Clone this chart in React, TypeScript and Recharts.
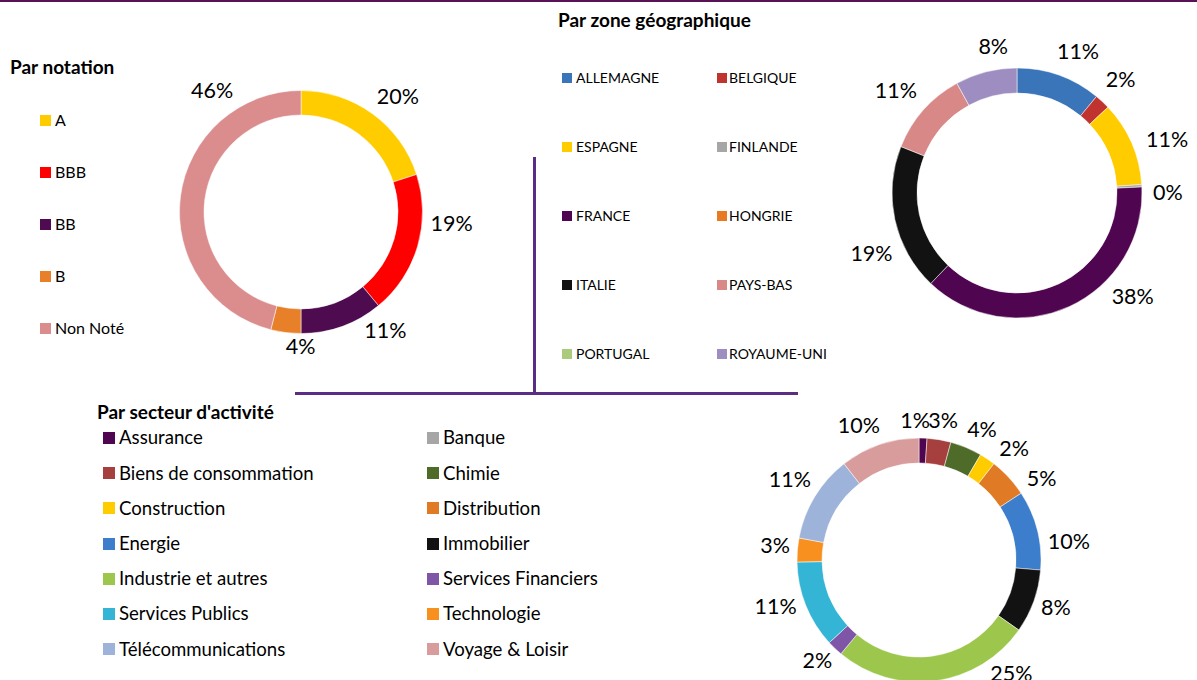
import { PieChart, Pie, Cell } from 'recharts'

// Par notation
const ratingNames = ['A', 'BBB', 'BB', 'B', 'Non Noté']
const ratingValues = [20, 19, 11, 4, 46]
const ratingColors = ['#FFCC00', '#FF0000', '#4F0B4F', '#E8802A', '#DB8C8C']

// Par zone géographique
const zoneNames = ['ALLEMAGNE', 'BELGIQUE', 'ESPAGNE', 'FINLANDE', 'FRANCE', 'HONGRIE', 'ITALIE', 'PAYS-BAS', 'PORTUGAL', 'ROYAUME-UNI']
const zoneValues = [11, 2, 11, 0.3, 38, 0, 19, 11, 0, 8]
const zoneColors = ['#3A74B9', '#C0332F', '#FFCC00', '#A6A6A6', '#500550', '#E87A22', '#121212', '#D98888', '#A9CB7B', '#9E8DC0']

// Par secteur d'activité
const sectorNames = [
  'Assurance', 'Banque', 'Biens de consommation', 'Chimie', 'Construction', 'Distribution', 'Energie',
  'Immobilier', 'Industrie et autres', 'Services Financiers', 'Services Publics', 'Technologie',
  'Télécommunications', 'Voyage & Loisir',
]
const sectorValues = [1, 0, 3, 4, 2, 5, 10, 8, 25, 2, 11, 3, 11, 10]
const sectorColors = [
  '#500550', '#A6A6A6', '#A6403E', '#4F6B2A', '#FFCC00', '#E07A25', '#3C7ECB',
  '#121212', '#9CC74C', '#7F55A8', '#35B5D6', '#F7901E', '#9EB3D9', '#D99C9C',
]

// label nudges (clockwise degrees) to mimic Excel's "best fit" placement
const ratingLabelShift = [4.5, -11, -15, -7, 46]
const zoneLabelShift = [4, 0, 5, 4, -23, 0, -11, -2, 0, 5]
const sectorLabelShift = [-3.5, 0, 0.5, 3.5, 7, 10, 8, 0, -31, 1, 3, 0, 0, -5.6]

const FONT = 'Lato, "Open Sans", sans-serif'
const LINE = '#5B2C83'
const LABEL_SIZE = 21.5

const toRows = (names: string[], values: number[]) => names.map((name, i) => ({ name, value: values[i] }))

const makeLabel = (shifts: number[], gap: number) => (props: any) => {
  const { cx, cy, midAngle, outerRadius, value, index } = props
  if (!value) return null
  const txt = `${Math.round(value)}%`
  const w = ((txt.length - 1) * 0.58 + 0.8) * LABEL_SIZE
  const h = 0.72 * LABEL_SIZE
  const m = ((midAngle - (shifts[index] || 0)) * Math.PI) / 180
  const r = outerRadius + gap + Math.abs(Math.cos(m)) * w / 2 + Math.abs(Math.sin(m)) * h / 2
  return (
    <text
      x={cx + r * Math.cos(-m)}
      y={cy + r * Math.sin(-m) - 3}
      textAnchor="middle"
      dominantBaseline="central"
      fontSize={LABEL_SIZE}
      fontFamily={FONT}
      fill="#000"
    >
      {txt}
    </text>
  )
}

function Legend({ names, colors, cols, top, step, squareX, textX, size, fontSize }: any) {
  return (
    <>
      {names.map((n: string, i: number) => {
        const row = Math.floor(i / cols)
        const col = i % cols
        const y = top + row * step
        return (
          <div key={n}>
            <div
              style={{ position: 'absolute', left: squareX[col], top: y - size / 2, width: size, height: size, background: colors[i] }}
            />
            <div
              style={{ position: 'absolute', left: textX[col], top: y - fontSize, height: fontSize * 2, lineHeight: `${fontSize * 2}px`, fontSize, whiteSpace: 'nowrap' }}
            >
              {n}
            </div>
          </div>
        )
      })}
    </>
  )
}

function Title({ text, x, y, size }: any) {
  return (
    <div style={{ position: 'absolute', left: x, top: y - size, lineHeight: `${size * 2}px`, fontSize: size, fontWeight: 700, whiteSpace: 'nowrap' }}>
      {text}
    </div>
  )
}

export default function App() {
  return (
    <div style={{ position: 'absolute', left: 0, top: 0, width: 1197, height: 680, background: '#fff', fontFamily: FONT, color: '#000', overflow: 'hidden' }}>
      <PieChart width={1197} height={680} style={{ position: 'absolute', left: 0, top: 0 }}>
        <Pie
          data={toRows(ratingNames, ratingValues)}
          dataKey="value"
          cx={296}
          cy={207}
          innerRadius={97}
          outerRadius={121.5}
          startAngle={90}
          endAngle={-270}
          stroke="#fff"
          strokeWidth={0.5}
          label={makeLabel(ratingLabelShift, 8)}
          labelLine={false}
          isAnimationActive={false}
        >
          {ratingValues.map((_, i) => <Cell key={i} fill={ratingColors[i]} />)}
        </Pie>
        <Pie
          data={toRows(zoneNames, zoneValues)}
          dataKey="value"
          cx={1012}
          cy={188}
          innerRadius={100}
          outerRadius={125}
          startAngle={90}
          endAngle={-270}
          stroke="#fff"
          strokeWidth={0.5}
          label={makeLabel(zoneLabelShift, 11)}
          labelLine={false}
          isAnimationActive={false}
        >
          {zoneValues.map((_, i) => <Cell key={i} fill={zoneColors[i]} />)}
        </Pie>
        <Pie
          data={toRows(sectorNames, sectorValues)}
          dataKey="value"
          cx={914}
          cy={555}
          innerRadius={97}
          outerRadius={122}
          startAngle={90}
          endAngle={-270}
          stroke="#fff"
          strokeWidth={0.5}
          label={makeLabel(sectorLabelShift, 7)}
          labelLine={false}
          isAnimationActive={false}
        >
          {sectorValues.map((_, i) => <Cell key={i} fill={sectorColors[i]} />)}
        </Pie>
      </PieChart>

      <div style={{ position: 'absolute', left: 0, top: 0, width: 1197, height: 2, background: '#5A1257' }} />
      <div style={{ position: 'absolute', left: 533, top: 157, width: 3, height: 237, background: LINE }} />
      <div style={{ position: 'absolute', left: 295, top: 392, width: 503, height: 3, background: LINE }} />

      <Title text="Par notation" x={10} y={67} size={19} />
      <Legend names={ratingNames} colors={ratingColors} cols={1} top={120} step={52} squareX={[40]} textX={[55]} size={11} fontSize={16} />

      <Title text="Par zone géographique" x={558} y={20} size={19} />
      <Legend names={zoneNames} colors={zoneColors} cols={2} top={78} step={69} squareX={[562, 717]} textX={[576, 729]} size={10} fontSize={14} />

      <Title text="Par secteur d'activité" x={97} y={412} size={19} />
      <Legend names={sectorNames} colors={sectorColors} cols={2} top={438} step={35.2} squareX={[103, 427]} textX={[119, 443]} size={12} fontSize={18.6} />
    </div>
  )
}
